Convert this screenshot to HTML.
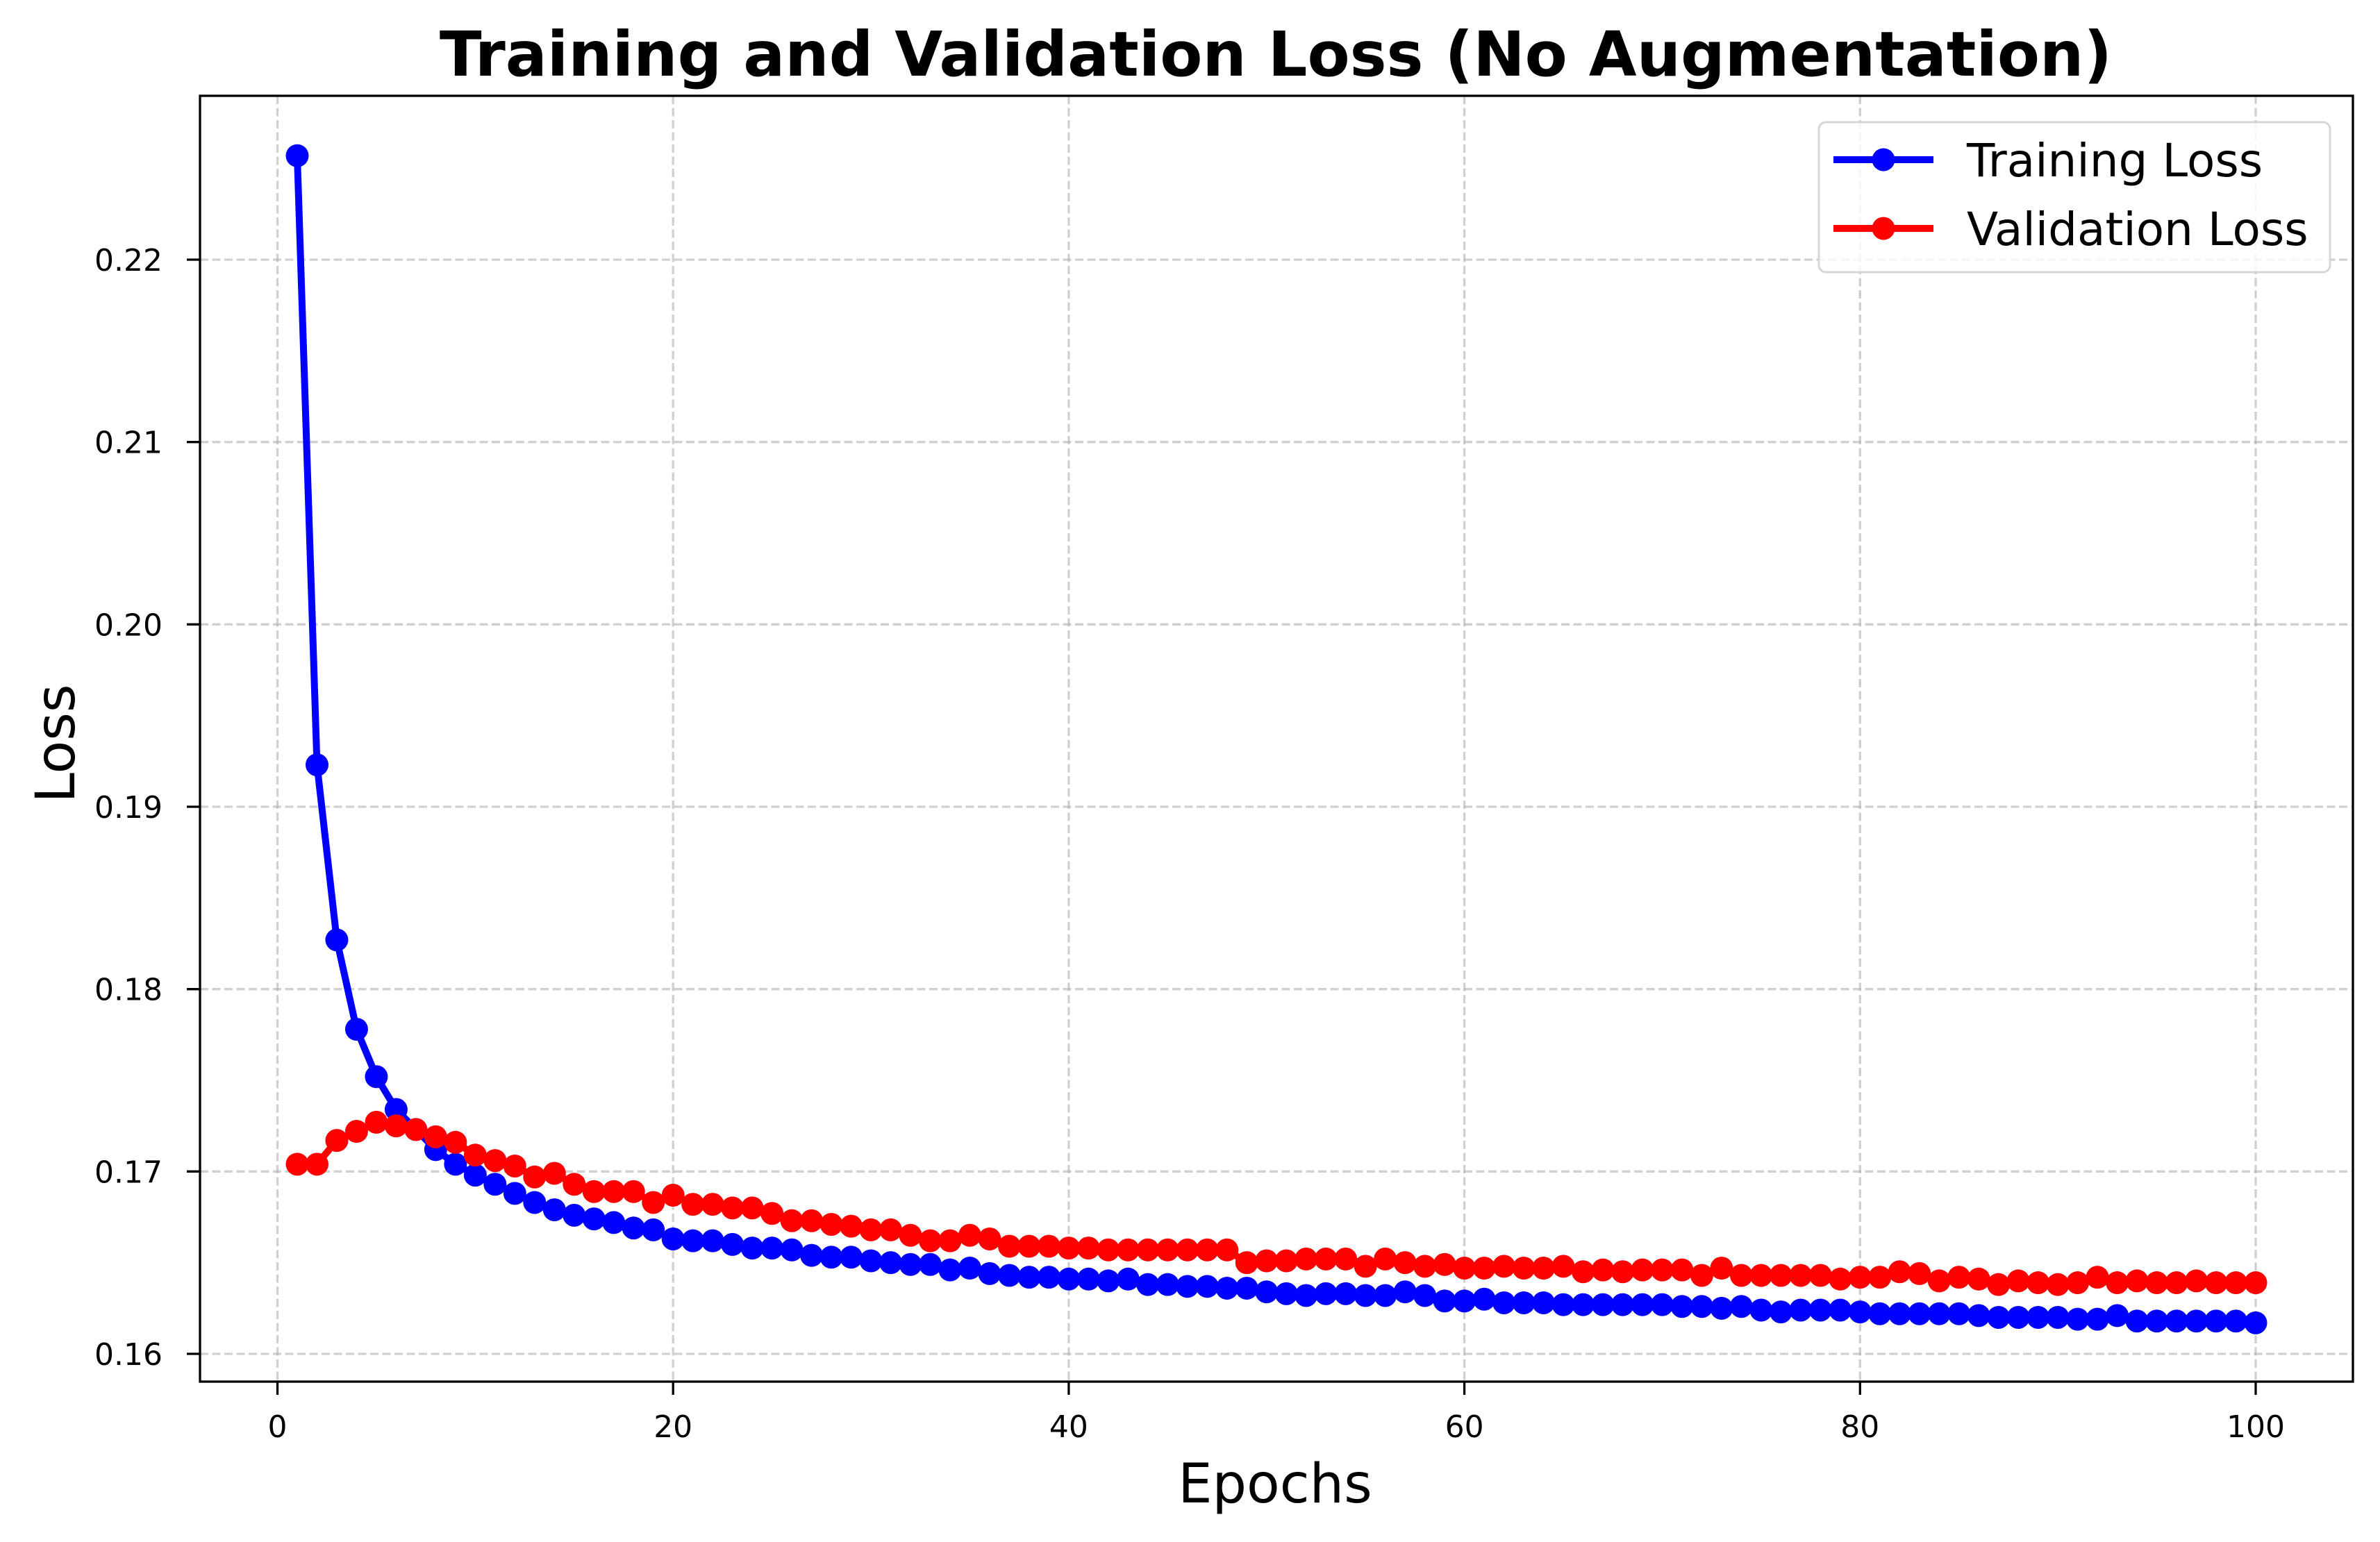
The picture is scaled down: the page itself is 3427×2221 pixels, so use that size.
<!DOCTYPE html>
<html><head><meta charset="utf-8"><style>
html,body{margin:0;padding:0;background:#fff;}
svg{display:block;}
</style></head><body>
<svg id="chart" width="3427" height="2221" viewBox="0 0 3427 2221" xmlns="http://www.w3.org/2000/svg" font-family="DejaVu Sans, Liberation Sans, sans-serif">
<rect width="3427" height="2221" fill="#fff"/>
<g id="grid"></g>
<g id="series"></g>
<g id="axes"></g>
<text x="1837" y="109" text-anchor="middle" font-size="89" font-weight="bold">Training and Validation Loss (No Augmentation)</text>
<text x="1836" y="2164" text-anchor="middle" font-size="78">Epochs</text>
<text transform="translate(107,1071) rotate(-90)" text-anchor="middle" font-size="78">Loss</text>
<g>
<rect x="2619" y="176" width="736" height="216" rx="10" fill="#fff" fill-opacity="0.8" stroke="#d6d6d6" stroke-width="3"/>
<g>
<line x1="2640" y1="230" x2="2784" y2="230" stroke="#0000ff" stroke-width="10"/>
<circle cx="2712" cy="230" r="16.5" fill="#0000ff"/>
<text x="2832" y="254" font-size="66">Training Loss</text></g>
<g>
<line x1="2640" y1="329" x2="2784" y2="329" stroke="#ff0000" stroke-width="10"/>
<circle cx="2712" cy="329" r="16.5" fill="#ff0000"/>
<text x="2832" y="353" font-size="66">Validation Loss</text></g>
</g>
</svg>
<script>
const epochs = Array.from({length:100},(_,i)=>i+1);
const trainingLoss = [0.2257,0.1923,0.1827,0.1778,0.1752,0.1734,0.1723,0.1712,0.1704,0.1698,0.1693,0.1688,0.1683,0.1679,0.1676,0.1674,0.1672,0.1669,0.1668,0.1663,0.1662,0.1662,0.1660,0.1658,0.1658,0.1657,0.1654,0.1653,0.1653,0.1651,0.1650,0.1649,0.1649,0.1646,0.1647,0.1644,0.1643,0.1642,0.1642,0.1641,0.1641,0.1640,0.1641,0.1638,0.1638,0.1637,0.1637,0.1636,0.1636,0.1634,0.1633,0.1632,0.1633,0.1633,0.1632,0.1632,0.1634,0.1632,0.1629,0.1629,0.1630,0.1628,0.1628,0.1628,0.1627,0.1627,0.1627,0.1627,0.1627,0.1627,0.1626,0.1626,0.1625,0.1626,0.1624,0.1623,0.1624,0.1624,0.1624,0.1623,0.1622,0.1622,0.1622,0.1622,0.1622,0.1621,0.1620,0.1620,0.1620,0.1620,0.1619,0.1619,0.1621,0.1618,0.1618,0.1618,0.1618,0.1618,0.1618,0.1617];
const validationLoss = [0.1704,0.1704,0.1717,0.1722,0.1727,0.1725,0.1723,0.1719,0.1716,0.1709,0.1706,0.1703,0.1697,0.1699,0.1693,0.1689,0.1689,0.1689,0.1683,0.1687,0.1682,0.1682,0.1680,0.1680,0.1677,0.1673,0.1673,0.1671,0.1670,0.1668,0.1668,0.1665,0.1662,0.1662,0.1665,0.1663,0.1659,0.1659,0.1659,0.1658,0.1658,0.1657,0.1657,0.1657,0.1657,0.1657,0.1657,0.1657,0.1650,0.1651,0.1651,0.1652,0.1652,0.1652,0.1648,0.1652,0.1650,0.1648,0.1649,0.1647,0.1647,0.1648,0.1647,0.1647,0.1648,0.1645,0.1646,0.1645,0.1646,0.1646,0.1646,0.1643,0.1647,0.1643,0.1643,0.1643,0.1643,0.1643,0.1641,0.1642,0.1642,0.1645,0.1644,0.1640,0.1642,0.1641,0.1638,0.1640,0.1639,0.1638,0.1639,0.1642,0.1639,0.1640,0.1639,0.1639,0.1640,0.1639,0.1639,0.1639];
const xTicks = [0,20,40,60,80,100];
const yTicks = [0.16,0.17,0.18,0.19,0.20,0.21,0.22];
const yTickLabels = ["0.16","0.17","0.18","0.19","0.20","0.21","0.22"];

const L=288,R=3388,T=138,B=1990;
function xs(v){return 399.5+(v-0)*(3248-399.5)/100;}
function ys(v){return 1950-(v-0.16)*(1950-374)/0.06;}
const NS="http://www.w3.org/2000/svg";
function mk(tag,attrs,parent){const e=document.createElementNS(NS,tag);for(const k in attrs)e.setAttribute(k,attrs[k]);parent.appendChild(e);return e;}
const grid=document.getElementById('grid'),axes=document.getElementById('axes'),series=document.getElementById('series');
xTicks.forEach(t=>{
  const g=mk('line',{x1:xs(t),x2:xs(t),y1:T,y2:B,stroke:'#b0b0b0','stroke-opacity':0.6,'stroke-width':3.3,'stroke-dasharray':'12 5.5'},grid);
  
  
  const tk=mk('line',{x1:xs(t),x2:xs(t),y1:B,y2:B+19,stroke:'#000','stroke-width':3.3},axes);
  
  
  const lb=mk('text',{x:xs(t),y:2070,'text-anchor':'middle','font-size':44},axes);
  lb.textContent=t;
  
  
});
yTicks.forEach((t,i)=>{
  const g=mk('line',{x1:L,x2:R,y1:ys(t),y2:ys(t),stroke:'#b0b0b0','stroke-opacity':0.6,'stroke-width':3.3,'stroke-dasharray':'12 5.5'},grid);
  
  
  const tk=mk('line',{x1:L-19,x2:L,y1:ys(t),y2:ys(t),stroke:'#000','stroke-width':3.3},axes);
  
  
  const lb=mk('text',{x:234,y:ys(t)+16,'text-anchor':'end','font-size':44},axes);
  lb.textContent=yTickLabels[i];
  
  
});
const frame=mk('rect',{x:L,y:T,width:R-L,height:B-T,fill:'none',stroke:'#000','stroke-width':3.3},axes);


function drawSeries(vals,color,name){
  const pts=vals.map((v,i)=>xs(epochs[i])+','+ys(v)).join(' ');
  const pl=mk('polyline',{points:pts,fill:'none',stroke:color,'stroke-width':10,'stroke-linejoin':'round'},series);
  
  
  vals.forEach((v,i)=>{
    const c=mk('circle',{cx:xs(epochs[i]),cy:ys(v),r:16.5,fill:color},series);
    
    
  });
}
drawSeries(trainingLoss,'#0000ff','training-loss');
drawSeries(validationLoss,'#ff0000','validation-loss');
</script>
</body></html>
